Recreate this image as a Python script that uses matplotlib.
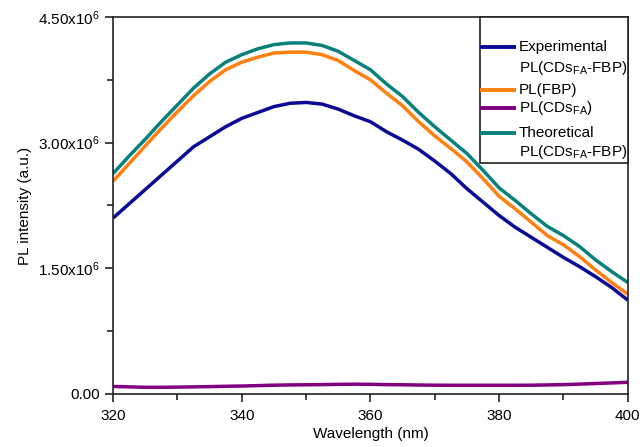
import numpy as np
import matplotlib.pyplot as plt
from matplotlib.lines import Line2D
from matplotlib.patches import Rectangle
from matplotlib.ticker import MultipleLocator, FixedLocator

plt.rcParams['font.family'] = ['Liberation Sans', 'DejaVu Sans']
plt.rcParams['mathtext.default'] = 'regular'

# wavelength (nm) and PL intensities (x1e6 a.u.)
wavelength = np.arange(320, 400.1, 2.5)

pl_exp = [2.10, 2.27, 2.44, 2.61, 2.78, 2.95, 3.07, 3.19, 3.29, 3.36, 3.43,
          3.47, 3.48, 3.46, 3.40, 3.32, 3.25, 3.13, 3.03, 2.92, 2.78, 2.63,
          2.45, 2.29, 2.13, 1.99, 1.87, 1.75, 1.63, 1.52, 1.40, 1.27, 1.12]

pl_fbp = [2.54, 2.75, 2.96, 3.17, 3.37, 3.56, 3.73, 3.87, 3.96, 4.02, 4.07,
          4.08, 4.08, 4.05, 3.98, 3.86, 3.75, 3.59, 3.44, 3.25, 3.08, 2.93,
          2.77, 2.57, 2.36, 2.21, 2.05, 1.89, 1.78, 1.64, 1.48, 1.33, 1.19]

pl_cds = [0.090, 0.085, 0.080, 0.080, 0.082, 0.085, 0.088, 0.092, 0.095,
          0.100, 0.105, 0.108, 0.110, 0.112, 0.115, 0.117, 0.115, 0.112,
          0.110, 0.107, 0.105, 0.104, 0.104, 0.104, 0.104, 0.104, 0.105,
          0.108, 0.112, 0.118, 0.125, 0.132, 0.140]

pl_theo = [2.63, 2.84, 3.04, 3.25, 3.45, 3.65, 3.82, 3.96, 4.05, 4.12, 4.17,
           4.19, 4.19, 4.16, 4.09, 3.98, 3.87, 3.70, 3.55, 3.36, 3.19, 3.03,
           2.87, 2.67, 2.46, 2.31, 2.15, 2.00, 1.89, 1.76, 1.60, 1.46, 1.33]

labels = ['Experimental\nPL(CDs$_{FA}$-FBP)', 'PL(FBP)', 'PL(CDs$_{FA}$)',
          'Theoretical\nPL(CDs$_{FA}$-FBP)']
colors = ['#0a0a96', '#ff8011', '#800080', '#08807c']

y_ticks = [0, 1.5e6, 3.0e6, 4.5e6]
y_ticklabels = ['0.00', '1.50x10$^{6}$', '3.00x10$^{6}$', '4.50x10$^{6}$']

fig = plt.figure(figsize=(6.4, 4.47), dpi=100)
ax = fig.add_axes([0.1766, 0.1186, 0.8044, 0.8434])

series = [pl_exp, pl_fbp, pl_cds, pl_theo]
for vals, c in zip(series, colors):
    ax.plot(wavelength, np.array(vals) * 1e6, color=c, lw=2.5,
            solid_capstyle='butt')

ax.set_xlim(320, 400)
ax.set_ylim(0, 4.5e6)
ax.xaxis.set_major_locator(MultipleLocator(20))
ax.xaxis.set_minor_locator(MultipleLocator(10))
ax.yaxis.set_major_locator(FixedLocator(y_ticks))
ax.yaxis.set_minor_locator(FixedLocator([0.75e6, 2.25e6, 3.75e6]))
ax.set_yticklabels(y_ticklabels)

for s in ax.spines.values():
    s.set_linewidth(1.2)
    s.set_color('#222222')
ax.tick_params(which='major', direction='out', length=6, width=1.2,
               labelsize=11, colors='#222222', labelcolor='black')
ax.tick_params(which='minor', direction='out', length=4, width=1.2,
               colors='#222222')
ax.tick_params(axis='x', pad=5)

ax.set_xlabel('Wavelength (nm)', fontsize=11, labelpad=3)
ax.set_ylabel('PL intensity (a.u.)', fontsize=11, labelpad=4)

# hand-built legend box in the upper right corner
tr = ax.transAxes
ax.add_patch(Rectangle((0.7126, 0.6127), 0.2874, 0.3873, transform=tr,
                       facecolor='white', edgecolor='#222222', lw=1.2,
                       zorder=5, clip_on=False))
rows = [(0.9212, 0.8647), (0.8064,), (0.7586,), (0.6931, 0.6427)]
for lab, c, ys in zip(labels, colors, rows):
    ax.add_line(Line2D([0.7126, 0.7825], [ys[0], ys[0]], color=c, lw=2.8,
                       transform=tr, zorder=6, solid_capstyle='butt'))
    for txt, y in zip(lab.split('\n'), ys):
        ax.text(0.788, y, txt, transform=tr, fontsize=11, va='center',
                ha='left', zorder=7)

fig.savefig('out.png', dpi=100)
